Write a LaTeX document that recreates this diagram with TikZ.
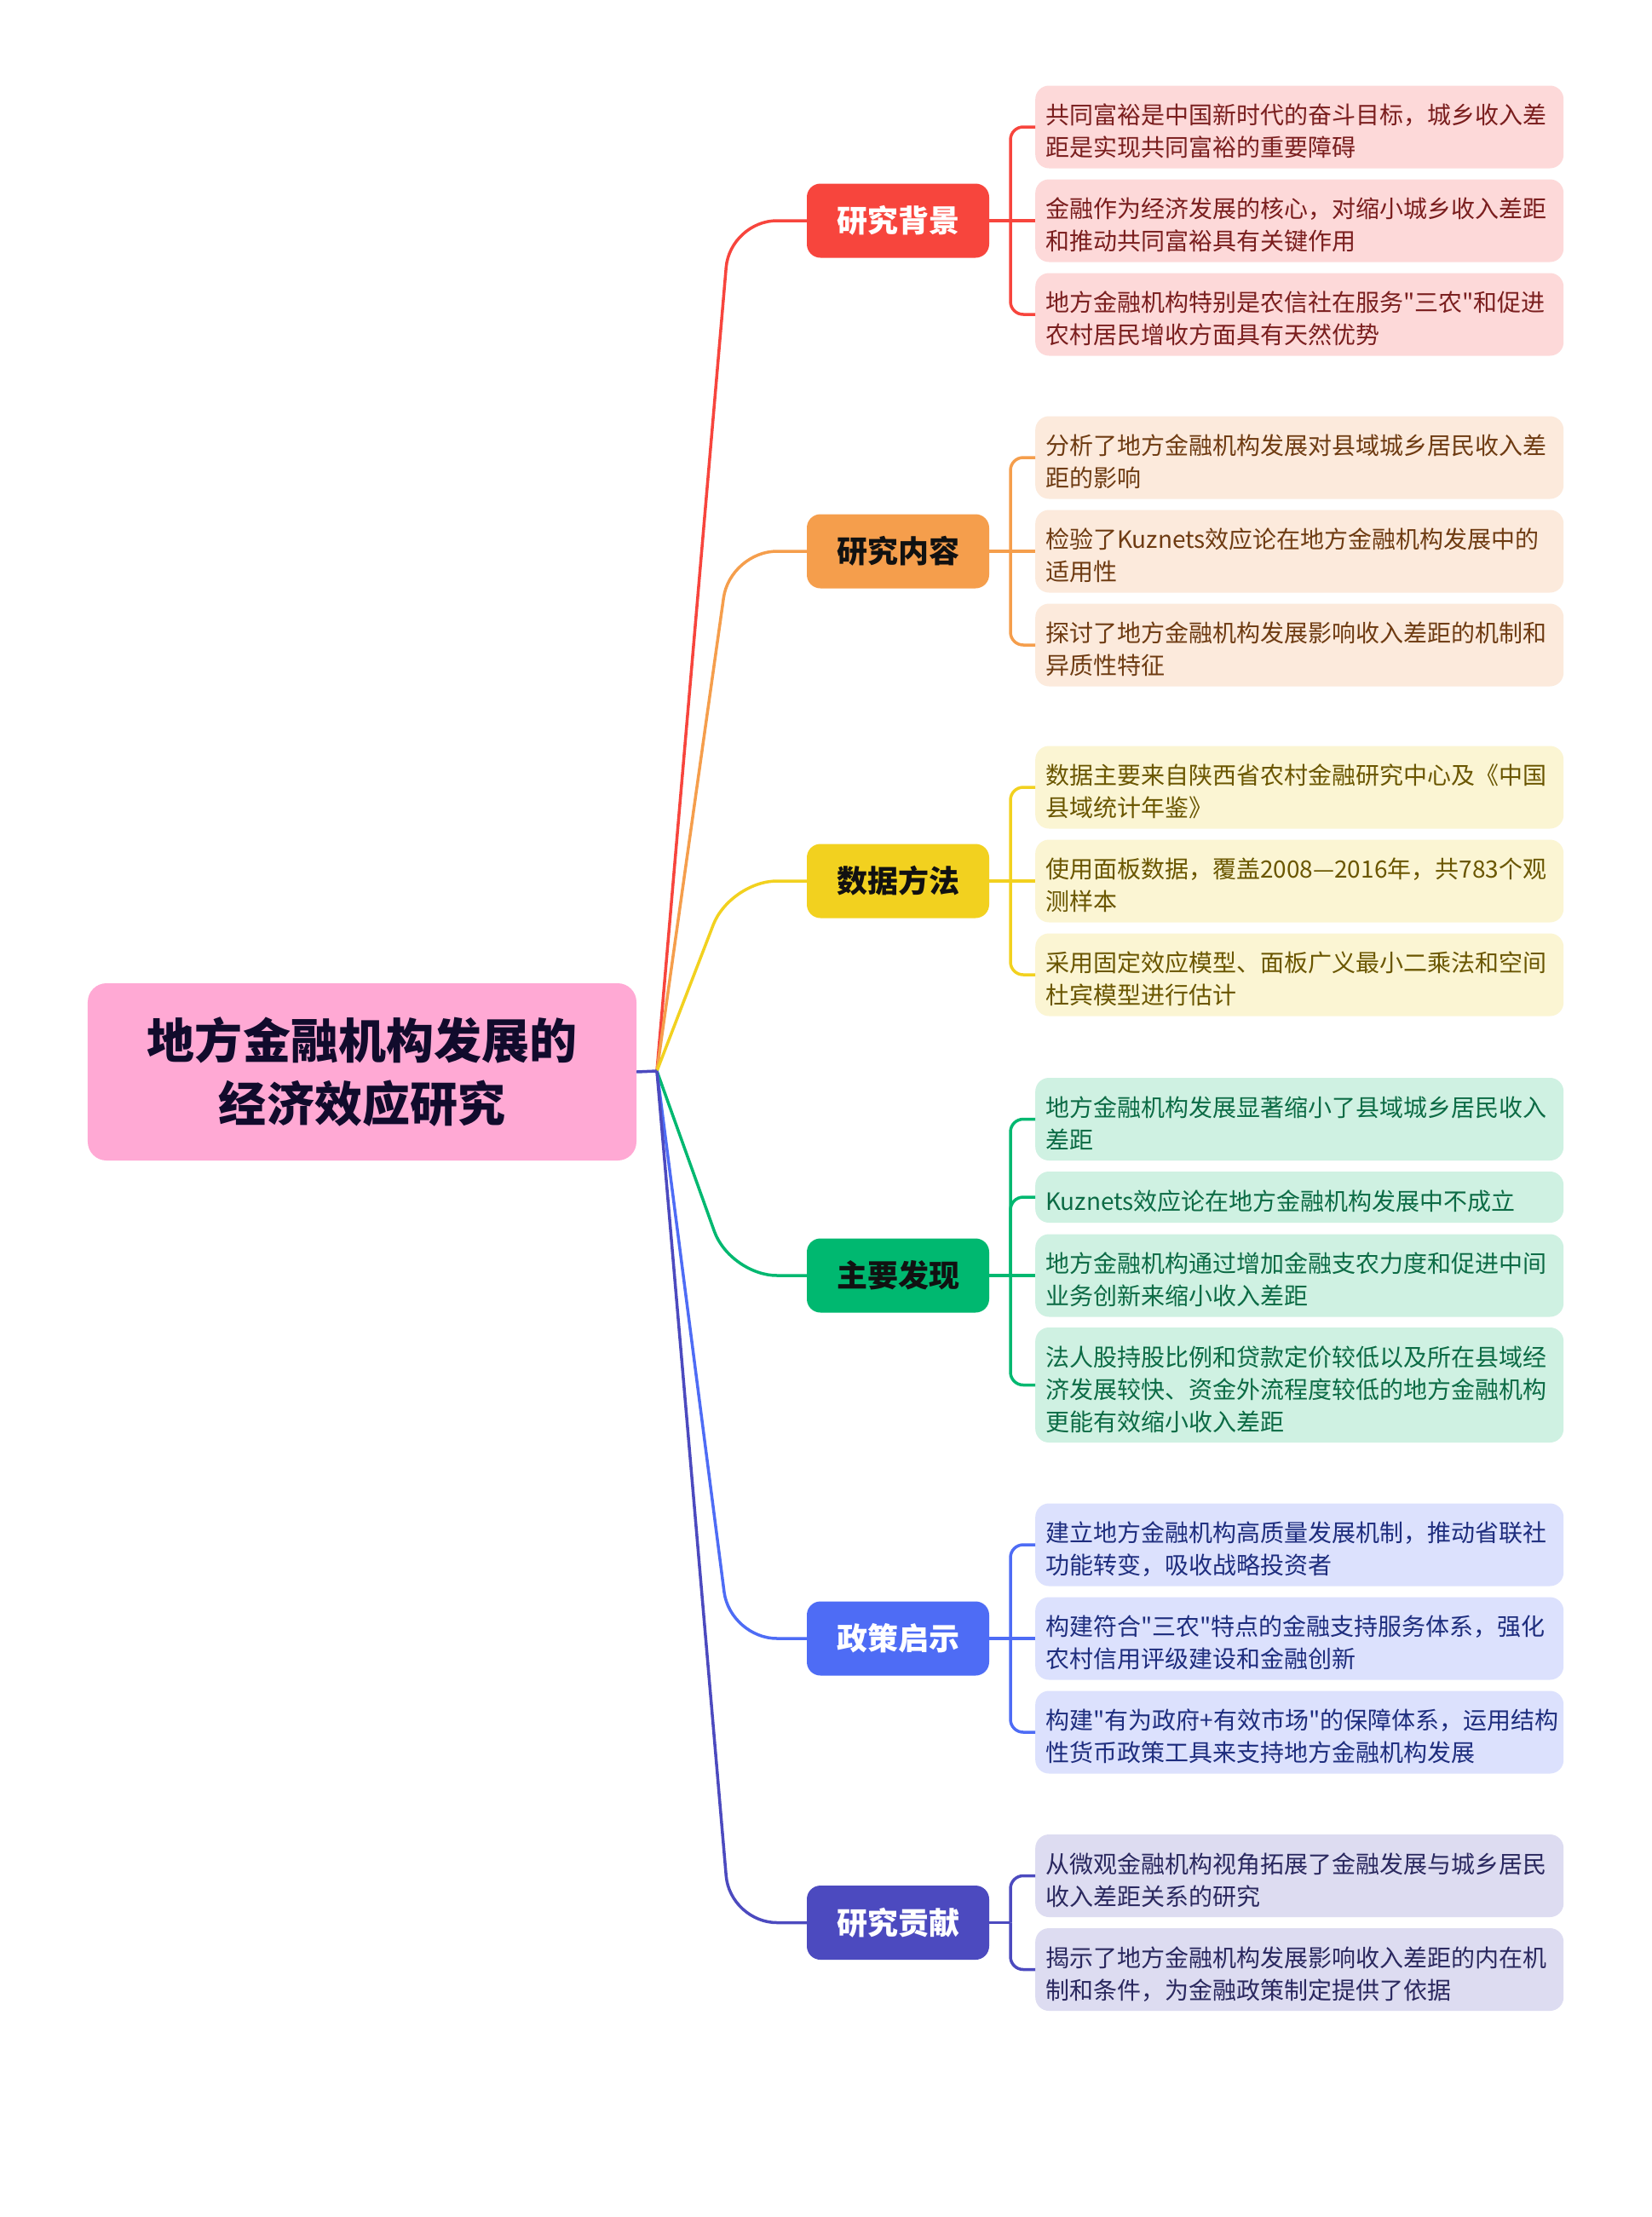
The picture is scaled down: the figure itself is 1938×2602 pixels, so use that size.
\documentclass[tikz,border=0pt]{standalone}
\usepackage{fontspec}
\newfontfamily\cjk{Noto Sans CJK SC}
\definecolor{rootfill}{HTML}{FFA9D4}
\definecolor{roottext}{HTML}{110B2C}
\definecolor{cR}{HTML}{F7453D}
\definecolor{cO}{HTML}{F59E4C}
\definecolor{cY}{HTML}{F2D11F}
\definecolor{cG}{HTML}{00B870}
\definecolor{cB}{HTML}{4E6CF5}
\definecolor{cI}{HTML}{4C4ABF}
\definecolor{fR}{HTML}{FDD9D9}
\definecolor{fO}{HTML}{FCEADC}
\definecolor{fY}{HTML}{FBF5D3}
\definecolor{fG}{HTML}{CFF1E2}
\definecolor{fB}{HTML}{DCE1FD}
\definecolor{fI}{HTML}{DDDCF1}
\definecolor{tR}{HTML}{7A1E1E}
\definecolor{tO}{HTML}{6E3B12}
\definecolor{tY}{HTML}{6A5600}
\definecolor{tG}{HTML}{0C6B45}
\definecolor{tB}{HTML}{1E2D7E}
\definecolor{tI}{HTML}{2A285F}
\definecolor{dark}{HTML}{111111}
\tikzset{
  rootbox/.style={fill=rootfill, text=roottext, rounded corners=22bp, minimum width=644bp, minimum height=208bp, inner sep=0pt, align=center, font={\cjk\bfseries\fontsize{56bp}{74bp}\selectfont}, execute at begin node={\rule{0pt}{56bp}}},
  branchbox/.style={rounded corners=16bp, minimum width=214bp, minimum height=87bp, inner sep=0pt, font={\cjk\bfseries\fontsize{36bp}{40bp}\selectfont}},
  leafbox/.style={anchor=west, rounded corners=16bp, minimum width=620bp, text width=596bp, inner xsep=12bp, inner ysep=0pt, align=left, font={\cjk\fontsize{28bp}{38bp}\selectfont}, execute at begin node={\rule{0pt}{34bp}}},
  hone/.style={minimum height=60bp},
  htwo/.style={minimum height=97bp},
  hthree/.style={minimum height=135bp},
  conn/.style={line width=3.5bp, rounded corners=55bp},
  brk/.style={line width=3.5bp, rounded corners=15bp},
  lR/.style={leafbox, fill=fR, text=tR},
  lO/.style={leafbox, fill=fO, text=tO},
  lY/.style={leafbox, fill=fY, text=tY},
  lG/.style={leafbox, fill=fG, text=tG},
  lB/.style={leafbox, fill=fB, text=tB},
  lI/.style={leafbox, fill=fI, text=tI}
}
\begin{document}
\begin{tikzpicture}[x=1bp,y=-1bp]
\fill[white] (0,0) rectangle (1938,2602);
\useasboundingbox (0,0) rectangle (1938,2602);

% root
\node[rootbox] (root) at (425,1258) {地方金融机构发展的\\经济效应研究};
\coordinate (J) at (771,1257);

% branches
\node[branchbox, fill=cR, text=white] (b1) at (1054,259) {研究背景};
\node[branchbox, fill=cO, text=dark] (b2) at (1054,647) {研究内容};
\node[branchbox, fill=cY, text=dark] (b3) at (1054,1034) {数据方法};
\node[branchbox, fill=cG, text=dark] (b4) at (1054,1497) {主要发现};
\node[branchbox, fill=cB, text=white] (b5) at (1054,1923) {政策启示};
\node[branchbox, fill=cI, text=white] (b6) at (1054,2256.5) {研究贡献};

% leaves
\node[lR, htwo] (l11) at (1215,149) {共同富裕是中国新时代的奋斗目标，城乡收入差\\距是实现共同富裕的重要障碍};
\node[lR, htwo] (l12) at (1215,259) {金融作为经济发展的核心，对缩小城乡收入差距\\和推动共同富裕具有关键作用};
\node[lR, htwo] (l13) at (1215,369) {地方金融机构特别是农信社在服务"三农"和促进\\农村居民增收方面具有天然优势};

\node[lO, htwo] (l21) at (1215,537) {分析了地方金融机构发展对县域城乡居民收入差\\距的影响};
\node[lO, htwo] (l22) at (1215,647) {检验了Kuznets效应论在地方金融机构发展中的\\适用性};
\node[lO, htwo] (l23) at (1215,757) {探讨了地方金融机构发展影响收入差距的机制和\\异质性特征};

\node[lY, htwo] (l31) at (1215,924) {数据主要来自陕西省农村金融研究中心及《中国\\县域统计年鉴》};
\node[lY, htwo] (l32) at (1215,1034) {使用面板数据，覆盖2008—2016年，共783个观\\测样本};
\node[lY, htwo] (l33) at (1215,1144) {采用固定效应模型、面板广义最小二乘法和空间\\杜宾模型进行估计};

\node[lG, htwo] (l41) at (1215,1313.5) {地方金融机构发展显著缩小了县域城乡居民收入\\差距};
\node[lG, hone] (l42) at (1215,1405) {Kuznets效应论在地方金融机构发展中不成立};
\node[lG, htwo] (l43) at (1215,1497) {地方金融机构通过增加金融支农力度和促进中间\\业务创新来缩小收入差距};
\node[lG, hthree] (l44) at (1215,1625.5) {法人股持股比例和贷款定价较低以及所在县域经\\济发展较快、资金外流程度较低的地方金融机构\\更能有效缩小收入差距};

\node[lB, htwo] (l51) at (1215,1813) {建立地方金融机构高质量发展机制，推动省联社\\功能转变，吸收战略投资者};
\node[lB, htwo] (l52) at (1215,1923) {构建符合"三农"特点的金融支持服务体系，强化\\农村信用评级建设和金融创新};
\node[lB, htwo] (l53) at (1215,2033) {构建"有为政府+有效市场"的保障体系，运用结构\\性货币政策工具来支持地方金融机构发展};

\node[lI, htwo] (l61) at (1215,2201.5) {从微观金融机构视角拓展了金融发展与城乡居民\\收入差距关系的研究};
\node[lI, htwo] (l62) at (1215,2311.5) {揭示了地方金融机构发展影响收入差距的内在机\\制和条件，为金融政策制定提供了依据};

% main connectors
\draw[conn, cR] (J) -- (857,259) -- (b1.west);
\draw[conn, cO] (J) -- (857,647) -- (b2.west);
\draw[conn, cY] (J) -- (857,1034) -- (b3.west);
\draw[conn, cG] (J) -- (857,1497) -- (b4.west);
\draw[conn, cB] (J) -- (857,1923) -- (b5.west);
\draw[conn, cI] (J) -- (857,2256.5) -- (b6.west);
\draw[line width=3.5bp, cI] (root.east) -- (J);

% brackets
\coordinate (k1) at (1186,259);
\coordinate (k2) at (1186,647);
\coordinate (k3) at (1186,1034);
\coordinate (k4) at (1186,1497);
\coordinate (k5) at (1186,1923);
\coordinate (k6) at (1186,2256.5);

\draw[brk, cR] (b1.east) -- (l12.west);
\draw[brk, cR] (k1) -- (k1 |- l11.west) -- (l11.west);
\draw[brk, cR] (k1) -- (k1 |- l13.west) -- (l13.west);

\draw[brk, cO] (b2.east) -- (l22.west);
\draw[brk, cO] (k2) -- (k2 |- l21.west) -- (l21.west);
\draw[brk, cO] (k2) -- (k2 |- l23.west) -- (l23.west);

\draw[brk, cY] (b3.east) -- (l32.west);
\draw[brk, cY] (k3) -- (k3 |- l31.west) -- (l31.west);
\draw[brk, cY] (k3) -- (k3 |- l33.west) -- (l33.west);

\draw[brk, cG] (b4.east) -- (l43.west);
\draw[brk, cG] (k4) -- (k4 |- l41.west) -- (l41.west);
\draw[brk, cG] (k4) -- (k4 |- l42.west) -- (l42.west);
\draw[brk, cG] (k4) -- (k4 |- l44.west) -- (l44.west);

\draw[brk, cB] (b5.east) -- (l52.west);
\draw[brk, cB] (k5) -- (k5 |- l51.west) -- (l51.west);
\draw[brk, cB] (k5) -- (k5 |- l53.west) -- (l53.west);

\draw[brk, cI] (b6.east) -- (k6);
\draw[brk, cI] (k6) -- (k6 |- l61.west) -- (l61.west);
\draw[brk, cI] (k6) -- (k6 |- l62.west) -- (l62.west);
\end{tikzpicture}
\end{document}
